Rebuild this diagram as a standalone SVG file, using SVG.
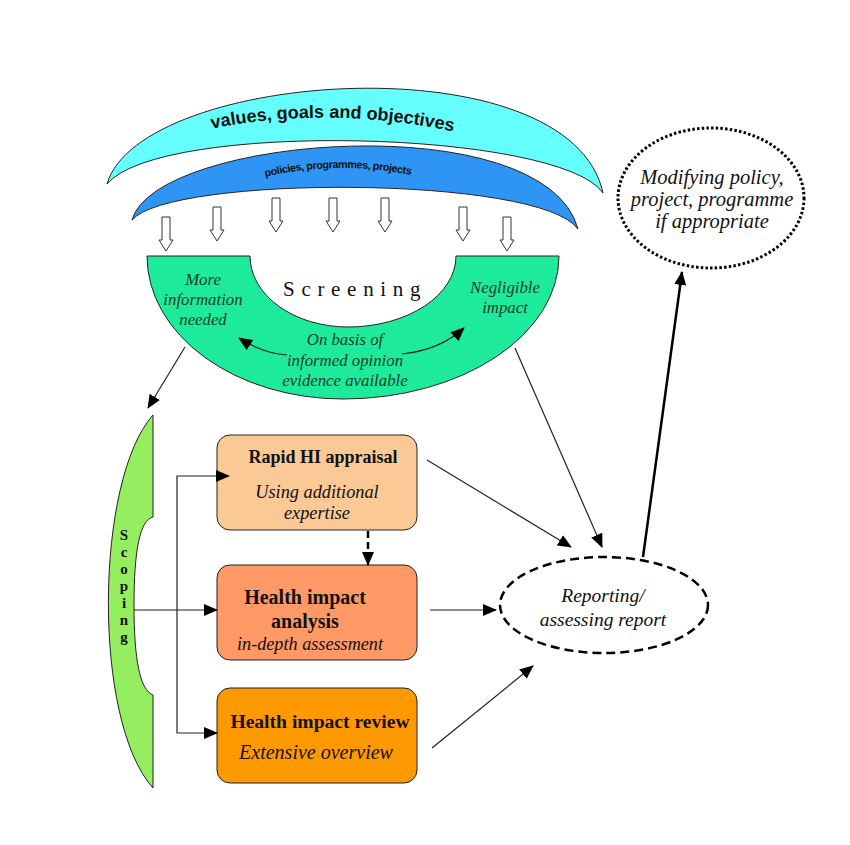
<svg xmlns="http://www.w3.org/2000/svg" xmlns:xlink="http://www.w3.org/1999/xlink" width="850" height="845" viewBox="0 0 850 845">
<style>
.sans{font-family:"Liberation Sans",Arial,sans-serif;font-weight:bold;fill:#111}
.ser{font-family:"Liberation Serif","Times New Roman",serif;fill:#111}
.it{font-style:italic}
.b{font-weight:bold}
.gt{fill:#173b27}
.ln{stroke:#222;stroke-width:1.2;fill:none}
.sh{stroke:#222;stroke-width:1}
</style>
<defs>
<marker id="ah" markerUnits="userSpaceOnUse" markerWidth="14" markerHeight="12" refX="13" refY="6" orient="auto"><path d="M0,0 L14,6 L0,12 Z" fill="#000"/></marker>
<marker id="ahs" markerUnits="userSpaceOnUse" markerWidth="14" markerHeight="12" refX="1" refY="6" orient="auto-start-reverse"><path d="M0,0 L14,6 L0,12 Z" fill="#000"/></marker>
<path id="dn" d="M-4,0 H4 V23 H7 L0,34 L-7,23 H-4 Z" fill="#fff" stroke="#333" stroke-width="1"/>
<path id="tp1" d="M205,130 Q330,104 460,133"/>
<path id="tp2" d="M256,179 Q338,158 420,177"/>
</defs>

<g id="values">
<path class="sh" fill="#66FFFF" d="M107,184 C140,70 570,40 603,193 C560,130 160,120 107,184 Z"/>
<text class="sans" font-size="18"><textPath xlink:href="#tp1" startOffset="50%" text-anchor="middle">values, goals and objectives</textPath></text>
</g>
<g id="policies">
<path class="sh" fill="#2E95F5" d="M132,220 C155,135 545,105 578,229 C540,175 170,175 132,220 Z"/>
<text class="sans" font-size="10.8" letter-spacing="-0.45"><textPath xlink:href="#tp2" startOffset="50%" text-anchor="middle">policies, programmes, projects</textPath></text>
</g>
<g id="down-arrows">
<use xlink:href="#dn" x="166" y="217"/>
<use xlink:href="#dn" x="217" y="207"/>
<use xlink:href="#dn" x="276" y="198"/>
<use xlink:href="#dn" x="333" y="198"/>
<use xlink:href="#dn" x="385" y="198"/>
<use xlink:href="#dn" x="463" y="207"/>
<use xlink:href="#dn" x="507" y="217"/>
</g>

<g id="screening">
<path class="sh" fill="#1DEB9B" d="M147,256 H250 A98,71 0 0 0 348,327 A108,71 0 0 0 456,256 H559 A216,143 0 0 1 343,399 A196,143 0 0 1 147,256 Z"/>
<text class="ser" x="283" y="296" font-size="21" letter-spacing="6.7">Screening</text>
<text class="ser it gt" font-size="16.8" text-anchor="middle"><tspan x="203" y="285">More</tspan><tspan x="203" y="305">information</tspan><tspan x="203" y="325">needed</tspan></text>
<text class="ser it gt" font-size="16.8" text-anchor="middle"><tspan x="505" y="293">Negligible</tspan><tspan x="505" y="313">impact</tspan></text>
<text class="ser it gt" font-size="16.8" text-anchor="middle"><tspan x="345" y="345">On basis of</tspan><tspan x="345" y="366">informed opinion</tspan><tspan x="345" y="386">evidence available</tspan></text>
<path class="ln" d="M287,355 Q262,353 239,338" marker-end="url(#ah)"/>
<path class="ln" d="M402,354 Q440,350 464,328" marker-end="url(#ah)"/>
</g>

<g id="scoping">
<path class="sh" fill="#95EE60" d="M153,415 V517 C140,520 134,550 134,605 C134,660 140,690 153,695 V788 C92,720 95,480 153,415 Z"/>
<text class="ser b" font-size="15" text-anchor="middle" fill="#1a3f1a"><tspan x="124" y="540">S</tspan><tspan x="124" y="557">c</tspan><tspan x="124" y="574">o</tspan><tspan x="124" y="591">p</tspan><tspan x="124" y="608">i</tspan><tspan x="124" y="625">n</tspan><tspan x="124" y="642">g</tspan></text>
</g>

<g id="rapid">
<rect x="217" y="435" width="200" height="95" rx="13" fill="#FBC996" class="sh"/>
<text class="ser b" x="323" y="463" font-size="18" text-anchor="middle">Rapid HI appraisal</text>
<text class="ser it" font-size="18.3" text-anchor="middle"><tspan x="317" y="498">Using additional</tspan><tspan x="317" y="519">expertise</tspan></text>
</g>
<g id="analysis">
<rect x="217" y="565" width="200" height="95" rx="13" fill="#FF9966" class="sh"/>
<text class="ser b" font-size="20" text-anchor="middle"><tspan x="305" y="604">Health impact</tspan><tspan x="305" y="628">analysis</tspan></text>
<text class="ser it" x="310" y="650" font-size="18.2" text-anchor="middle">in-depth assessment</text>
</g>
<g id="review">
<rect x="217" y="688" width="200" height="95" rx="13" fill="#FF9900" class="sh"/>
<text class="ser b" x="320" y="728" font-size="19.6" text-anchor="middle">Health impact review</text>
<text class="ser it" x="316" y="759" font-size="20" text-anchor="middle">Extensive overview</text>
</g>

<g id="reporting">
<ellipse cx="604" cy="605" rx="104" ry="48" fill="none" stroke="#000" stroke-width="2.5" stroke-dasharray="9 5"/>
<text class="ser it" font-size="19.5" text-anchor="middle"><tspan x="603" y="602">Reporting/</tspan><tspan x="603" y="626">assessing report</tspan></text>
</g>
<g id="modifying">
<ellipse cx="711" cy="198" rx="93" ry="70" fill="none" stroke="#000" stroke-width="3" stroke-dasharray="2.5 2.2"/>
<text class="ser it" font-size="20.5" text-anchor="middle"><tspan x="712" y="184">Modifying policy,</tspan><tspan x="712" y="206">project, programme</tspan><tspan x="712" y="228">if appropriate</tspan></text>
</g>

<g id="connectors">
<path class="ln" d="M185,347 L148,408" marker-end="url(#ah)"/>
<path class="ln" d="M515,348 L602,547" marker-end="url(#ah)"/>
<path class="ln" d="M427,460 L571,547" marker-end="url(#ah)"/>
<path class="ln" d="M134,610 H217" marker-end="url(#ah)"/>
<path class="ln" d="M217,476 H177 V733 H217" marker-start="url(#ahs)" marker-end="url(#ah)"/>
<path d="M368,531 V565" fill="none" stroke="#000" stroke-width="2.5" stroke-dasharray="7 4" marker-end="url(#ah)"/>
<path class="ln" d="M430,610 H496" marker-end="url(#ah)"/>
<path class="ln" d="M432,748 L533,666" marker-end="url(#ah)"/>
<path d="M643,557 L682,272" fill="none" stroke="#000" stroke-width="2.5" marker-end="url(#ah)"/>
</g>
</svg>
